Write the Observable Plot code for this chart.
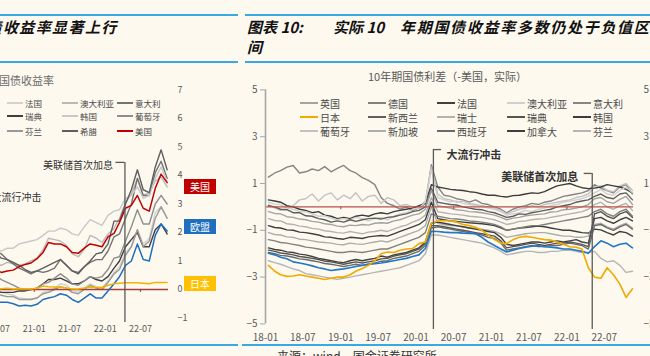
<!DOCTYPE html>
<html><head><meta charset="utf-8">
<script src="https://cdn.jsdelivr.net/npm/d3@7"></script>
<script src="https://cdn.jsdelivr.net/npm/@observablehq/plot@0.6"></script>
<style>
body{margin:0;width:650px;height:356px;overflow:hidden;position:relative;background:#fdf9ef;font-family:"Noto Sans CJK SC","Noto Sans",sans-serif;}
.a{position:absolute;white-space:nowrap;}
.t{position:absolute;white-space:nowrap;font-style:italic;font-weight:700;font-size:15px;line-height:16px;color:#111;}
.bl{position:absolute;height:2px;background:#38aae3;}
.lg{position:absolute;white-space:nowrap;display:flex;align-items:center;}
.lg i{display:inline-block;height:2px;margin-right:2px;}
.box{position:absolute;width:32px;height:15px;line-height:15px;text-align:center;color:#fff;font-size:10px;font-family:"Noto Sans CJK SC",serif;}
svg{position:absolute;}
</style></head><body>
<div class="bl" style="left:0;width:238px;top:14px"></div>
<div class="bl" style="left:245px;width:405px;top:14px"></div>
<div class="bl" style="left:0;width:238px;top:61px"></div>
<div class="bl" style="left:245px;width:405px;top:61px"></div>
<div class="bl" style="left:0;width:238px;top:344px"></div>
<div class="bl" style="left:242px;width:408px;top:344px"></div>
<div class="t" style="left:-13.5px;top:19px;letter-spacing:1.4px">债收益率显著上行</div>
<div class="t" style="left:247px;top:19px">图表 10:</div>
<div class="t" style="left:333px;top:19px">实际 10</div>
<div class="t" style="left:400px;top:19px;letter-spacing:1.7px">年期国债收益率多数仍处于负值区</div>
<div class="t" style="left:247px;top:39px">间</div>
<div class="a" style="left:-1px;top:74px;font-size:11px;line-height:12px;color:#6b6b6b">国债收益率</div>
<div class="a" style="left:368px;top:70px;font-size:11px;line-height:12px;color:#595959">10年期国债利差（-美国，实际）</div>
<div class="a" style="left:277px;top:350px;font-size:12px;line-height:12px;color:#333">来源：wind，国金证券研究所</div>
<div id="root"></div>
<script>
// ---------- Left chart data (monthly, 2020-06 .. 2022-11) ----------
const namesL = ["法国","澳大利亚","意大利","瑞典","韩国","葡萄牙","芬兰","希腊","欧盟","日本","美国"];
const lFR = [-0.05,-0.1,-0.15,-0.2,-0.3,-0.32,-0.33, -0.3,-0.1,-0.05,0.05,0.2,0.15,-0.05,-0.08,0.05,0.2,0.1,0.05, 0.3,0.6,0.8,1.3,1.5,2.1,1.6,1.8,2.7,2.9,2.5];
const lAU = [0.9,0.85,0.95,0.9,0.85,0.9,1.0, 1.1,1.4,1.8,1.75,1.7,1.55,1.25,1.15,1.4,1.9,1.8,1.65, 1.95,2.15,2.5,3.05,3.35,3.9,3.3,3.4,3.8,3.95,3.6];
const lIT = [1.35,1.25,1.05,0.9,0.75,0.65,0.55, 0.65,0.6,0.65,0.75,1.05,0.85,0.65,0.6,0.8,0.95,1.05,1.05, 1.35,1.85,1.95,2.5,3.0,3.9,3.3,3.3,4.1,4.5,3.9];
const lSE = [-0.05,-0.1,-0.1,-0.1,-0.05,-0.05,0.0, 0.05,0.2,0.35,0.35,0.4,0.3,0.2,0.2,0.3,0.45,0.35,0.3, 0.45,0.75,1.0,1.5,1.75,2.0,1.5,1.5,2.1,2.3,1.95];
const lKR = [1.4,1.35,1.45,1.45,1.6,1.65,1.7, 1.75,1.9,2.05,2.05,2.15,2.1,1.95,1.9,2.2,2.45,2.35,2.25, 2.6,2.75,2.8,3.2,3.3,3.6,3.2,3.3,3.9,4.3,3.8];
const lPT = [0.5,0.35,0.25,0.15,0.05,0.0,0.0, 0.05,0.2,0.25,0.4,0.55,0.4,0.2,0.15,0.3,0.45,0.4,0.45, 0.7,1.1,1.15,1.7,2.2,2.8,2.3,2.3,3.0,3.3,3.0];
const lFI = [-0.15,-0.2,-0.25,-0.25,-0.35,-0.35,-0.35, -0.3,-0.15,-0.1,0.0,0.1,0.05,-0.1,-0.15,0.0,0.15,0.05,0.0, 0.25,0.55,0.7,1.2,1.5,2.1,1.5,1.7,2.5,2.9,2.5];
const lGR = [1.3,1.1,1.05,0.95,0.85,0.7,0.6, 0.65,0.75,0.85,0.95,1.05,0.85,0.65,0.55,0.8,1.0,1.25,1.3, 1.6,2.4,2.4,3.0,3.5,4.2,3.5,3.4,4.3,4.9,4.2];
const lEU = [-0.42,-0.45,-0.45,-0.5,-0.58,-0.55,-0.58, -0.52,-0.35,-0.3,-0.25,-0.15,-0.2,-0.35,-0.45,-0.3,-0.15,-0.3,-0.3, -0.05,0.2,0.45,0.85,1.0,1.6,1.05,1.0,1.9,2.3,2.05];
const lJP = [0.02,0.03,0.04,0.02,0.03,0.02,0.02, 0.04,0.12,0.1,0.09,0.08,0.05,0.02,0.02,0.05,0.09,0.07,0.07, 0.15,0.2,0.22,0.24,0.24,0.24,0.22,0.2,0.25,0.25,0.25];
const lUS = [0.7,0.6,0.65,0.68,0.8,0.88,0.93, 1.08,1.3,1.65,1.6,1.6,1.5,1.3,1.27,1.45,1.6,1.55,1.5, 1.85,1.97,2.35,2.85,2.95,3.3,2.85,2.75,3.55,4.05,3.75];
const valuesL = [lFR,lAU,lIT,lSE,lKR,lPT,lFI,lGR,lEU,lJP,lUS];
const xTicksL = ["2020-07-01","2021-01-01","2021-07-01","2022-01-01","2022-07-01"];
const zeroTicksL = ["2021-01-01","2022-07-01"];
const yTicksL = [-1,0,1,2,3,4,5,6,7];
const eventsL = [
  {date:"2020-03-20", label:"大流行冲击", top:3.4, textY:3.23, side:1, bottom:-1.16},
  {date:"2022-04-12", label:"美联储首次加息", top:4.46, textY:4.35, side:-1, bottom:-1.16}
];
const endLabels = [{name:"美国", value:3.6},{name:"欧盟", value:2.2},{name:"日本", value:0.2}];

// ---------- Right chart data (monthly, 2018-01 .. 2022-11) ----------
const namesR = ["意大利","葡萄牙","韩国","澳大利亚","新西兰","英国","瑞士","加拿大","新加坡","法国","瑞典","西班牙","德国","芬兰","欧元区","日本"];
const rIT = [1.27,1.45,1.55,1.7,1.77,1.45,1.5,1.62,1.55,1.72,1.5,1.65, 1.77,1.55,1.45,1.25,1.13,0.95,0.4,0.15,0.05,-0.1,0.0,-0.15, -0.05,0.15,1.8,0.85,0.5,0.45,0.35,0.3,0.2,0.3,0.15,0.1, 0.0,-0.1,-0.25,-0.1,0.0,0.05,0.15,0.1,0.2,0.25,0.35,0.45, 0.5,0.55,0.6,0.7,0.95,0.8,0.7,0.6,0.85,0.95,0.55];
const rPT = [0.1,-0.05,-0.15,-0.1,0.05,0.3,0.35,0.55,0.25,0.5,0.6,0.3, 0.5,0.35,0.6,0.25,0.45,0.5,0.15,0.4,0.3,0.05,0.1,0.0, 0.0,0.25,1.7,0.55,0.35,0.3,0.2,0.25,0.15,0.1,0.05,0.0, -0.05,-0.15,-0.3,-0.2,-0.1,-0.05,0.05,0.0,0.1,0.15,0.2,0.25, 0.3,0.4,0.45,0.55,0.85,0.9,0.7,0.65,0.9,1.0,0.7];
const rKR = [0.3,0.25,0.2,0.05,0.0,-0.1,-0.15,-0.25,-0.2,-0.35,-0.4,-0.5, -0.45,-0.5,-0.4,-0.35,-0.4,-0.3,-0.25,-0.3,-0.2,-0.15,-0.1,-0.05, 0.05,0.15,0.95,0.85,0.8,0.75,0.72,0.7,0.65,0.62,0.55,0.5, 0.5,0.45,0.42,0.48,0.5,0.55,0.6,0.58,0.65,0.78,0.9,0.95, 1.0,0.9,0.82,0.78,0.8,0.85,0.95,0.9,0.85,0.75,0.6];
const rAU = [0.2,0.12,0.1,-0.05,-0.1,-0.2,-0.2,-0.3,-0.4,-0.38,-0.48,-0.55, -0.5,-0.55,-0.45,-0.5,-0.6,-0.5,-0.45,-0.55,-0.4,-0.3,-0.25,-0.1, -0.05,0.2,1.6,0.4,0.3,0.22,0.25,0.15,0.1,0.05,0.02,-0.05, -0.1,-0.2,-0.35,-0.3,-0.25,-0.15,-0.2,-0.1,-0.05,0.05,0.1,0.2, 0.25,0.3,0.35,0.45,0.6,0.75,0.55,0.5,0.7,0.85,0.6];
const rNZ = [0.05,0.0,-0.1,-0.12,-0.25,-0.25,-0.38,-0.4,-0.5,-0.55,-0.65,-0.6, -0.65,-0.55,-0.62,-0.55,-0.5,-0.48,-0.52,-0.45,-0.42,-0.35,-0.3,-0.2, -0.15,0.0,0.8,0.2,0.15,0.1,0.08,0.0,-0.05,-0.1,-0.12,-0.2, -0.25,-0.35,-0.45,-0.4,-0.3,-0.32,-0.25,-0.2,-0.15,-0.1,0.0,0.05, 0.1,0.2,0.25,0.3,0.45,0.55,0.4,0.35,0.55,0.6,0.3];
const rUK = [-0.2,-0.28,-0.3,-0.42,-0.45,-0.52,-0.55,-0.62,-0.65,-0.72,-0.75,-0.82, -0.85,-0.78,-0.8,-0.75,-0.78,-0.7,-0.68,-0.7,-0.6,-0.55,-0.45,-0.35, -0.3,-0.1,0.7,0.05,0.0,-0.05,-0.12,-0.15,-0.2,-0.22,-0.25,-0.3, -0.35,-0.45,-0.55,-0.48,-0.45,-0.38,-0.35,-0.32,-0.3,-0.22,-0.2,-0.12, -0.1,-0.05,0.0,0.1,0.35,0.4,0.22,0.15,0.32,0.45,0.1];
const rCH = [-0.5,-0.58,-0.6,-0.72,-0.75,-0.82,-0.85,-0.92,-0.95,-1.02,-1.05,-1.1, -1.12,-1.05,-1.1,-1.15,-1.08,-1.05,-1.0,-1.05,-0.95,-0.85,-0.78,-0.65, -0.55,-0.35,0.4,-0.2,-0.25,-0.3,-0.32,-0.35,-0.4,-0.42,-0.45,-0.5, -0.55,-0.65,-0.75,-0.7,-0.62,-0.6,-0.55,-0.52,-0.5,-0.45,-0.4,-0.35, -0.3,-0.25,-0.2,-0.1,0.1,0.2,0.0,-0.1,0.05,0.15,-0.15];
const rCA = [-0.8,-0.88,-0.9,-0.98,-1.0,-1.08,-1.1,-1.15,-1.2,-1.28,-1.3,-1.35, -1.38,-1.3,-1.32,-1.35,-1.28,-1.25,-1.22,-1.25,-1.15,-1.05,-0.95,-0.85, -0.75,-0.55,0.2,-0.5,-0.55,-0.6,-0.62,-0.65,-0.68,-0.7,-0.72,-0.75, -0.8,-0.9,-1.0,-0.95,-0.9,-0.88,-0.85,-0.82,-0.85,-0.9,-0.95,-1.0, -1.0,-1.05,-1.1,-1.12,-0.95,-0.98,-1.1,-1.2,-1.05,-1.1,-1.25];
const rSG = [-1.1,-1.18,-1.2,-1.28,-1.3,-1.38,-1.4,-1.45,-1.5,-1.52,-1.55,-1.6, -1.62,-1.55,-1.58,-1.6,-1.55,-1.5,-1.45,-1.5,-1.4,-1.3,-1.2,-1.1, -1.0,-0.8,0.0,-0.7,-0.75,-0.8,-0.82,-0.85,-0.9,-0.92,-0.95,-1.0, -1.05,-1.15,-1.3,-1.25,-1.2,-1.15,-1.12,-1.1,-1.1,-1.15,-1.2,-1.25, -1.25,-1.3,-1.3,-1.25,-0.75,-0.7,-0.85,-0.95,-0.8,-0.7,-0.9];
const rFR = [-1.75,-1.82,-1.85,-1.92,-1.95,-2.02,-2.05,-2.12,-2.2,-2.25,-2.3,-2.35, -2.38,-2.3,-2.25,-2.3,-2.25,-2.2,-2.1,-2.15,-2.05,-2.0,-1.95,-1.85, -1.75,-1.5,-0.7,-0.65,-0.7,-0.75,-0.8,-0.85,-0.9,-0.95,-1.0,-1.05, -1.1,-1.3,-1.6,-1.65,-1.6,-1.55,-1.5,-1.5,-1.55,-1.5,-1.45,-1.5, -1.45,-1.4,-1.5,-1.55,-0.5,-0.45,-0.6,-0.7,-0.55,-0.45,-0.6];
const rSE = [-1.85,-1.9,-1.97,-2.0,-2.05,-2.12,-2.15,-2.2,-2.25,-2.32,-2.35,-2.4, -2.45,-2.4,-2.35,-2.4,-2.35,-2.3,-2.22,-2.2,-2.1,-2.05,-2.0,-1.9, -1.8,-1.55,-0.8,-0.8,-0.85,-0.9,-0.95,-1.0,-1.05,-1.1,-1.15,-1.2, -1.25,-1.45,-1.75,-1.7,-1.65,-1.6,-1.55,-1.6,-1.65,-1.6,-1.55,-1.55, -1.5,-1.55,-1.6,-1.7,-0.3,-0.2,-0.4,-0.5,-0.3,-0.2,-0.45];
const rES = [-1.95,-2.0,-2.07,-2.1,-2.15,-2.22,-2.25,-2.3,-2.35,-2.42,-2.45,-2.5, -2.55,-2.5,-2.45,-2.5,-2.45,-2.4,-2.32,-2.3,-2.2,-2.15,-2.1,-2.0, -1.9,-1.65,-0.9,-0.85,-0.9,-0.95,-1.0,-1.05,-1.1,-1.15,-1.2,-1.3, -1.35,-1.55,-1.85,-1.8,-1.75,-1.7,-1.65,-1.7,-1.7,-1.65,-1.65,-1.6, -1.55,-1.6,-1.65,-1.8,-0.8,-0.75,-0.9,-1.0,-0.85,-0.75,-0.95];
const rDE = [-1.4,-1.45,-1.52,-1.55,-1.6,-1.65,-1.72,-1.75,-1.8,-1.85,-1.9,-1.95, -1.95,-1.9,-1.92,-1.95,-1.9,-1.85,-1.8,-1.8,-1.7,-1.6,-1.5,-1.4, -1.3,-1.1,-0.3,-0.4,-0.45,-0.5,-0.52,-0.55,-0.6,-0.62,-0.65,-0.7, -0.75,-0.85,-1.0,-0.95,-0.9,-0.85,-0.8,-0.8,-0.75,-0.7,-0.65,-0.6, -0.55,-0.5,-0.45,-0.4,-0.2,-0.1,-0.3,-0.4,-0.2,-0.1,-0.4];
const rFI = [-2.3,-2.38,-2.45,-2.55,-2.65,-2.72,-2.85,-2.9,-2.95,-3.0,-3.05,-3.1, -3.05,-3.0,-2.95,-2.9,-2.85,-2.8,-2.75,-2.7,-2.65,-2.6,-2.5,-2.4, -2.3,-2.0,-1.2,-1.2,-1.25,-1.3,-1.35,-1.4,-1.45,-1.5,-1.55,-1.65, -1.75,-1.9,-2.05,-2.0,-1.95,-1.9,-1.9,-1.95,-1.95,-1.9,-1.9,-1.85, -1.85,-1.9,-1.95,-1.95,-1.9,-2.2,-2.35,-2.3,-2.5,-2.8,-2.75];
const rEA = [-1.98,-2.05,-2.15,-2.22,-2.35,-2.4,-2.45,-2.52,-2.6,-2.65,-2.72,-2.68, -2.65,-2.6,-2.55,-2.5,-2.45,-2.43,-2.4,-2.35,-2.3,-2.25,-2.2,-2.12, -2.05,-1.78,-1.04,-1.05,-1.08,-1.1,-1.1,-1.12,-1.13,-1.15,-1.3,-1.5, -1.65,-1.8,-1.93,-1.85,-1.78,-1.72,-1.68,-1.65,-1.7,-1.72,-1.75,-1.8, -1.8,-1.85,-1.9,-1.98,-1.7,-1.45,-1.55,-1.7,-1.6,-1.55,-1.75];
const rJP = [-2.5,-2.75,-2.9,-2.97,-2.95,-2.9,-2.95,-3.0,-3.05,-3.1,-3.05,-3.0, -3.0,-2.9,-2.75,-2.63,-2.5,-2.3,-2.0,-1.93,-1.95,-1.85,-1.8,-1.78, -1.57,-1.5,-0.7,-0.6,-0.58,-0.6,-0.65,-0.75,-0.8,-0.87,-1.0,-1.2, -1.4,-1.55,-1.57,-1.4,-1.3,-1.26,-1.3,-1.35,-1.4,-1.42,-1.5,-1.6, -1.7,-1.72,-1.8,-2.6,-3.0,-3.05,-2.6,-2.9,-3.3,-3.87,-3.5];
const valuesR = [rIT,rPT,rKR,rAU,rNZ,rUK,rCH,rCA,rSG,rFR,rSE,rES,rDE,rFI,rEA,rJP];
const xTicksR = ["2018-01-01","2018-07-01","2019-01-01","2019-07-01","2020-01-01","2020-07-01","2021-01-01","2021-07-01","2022-01-01","2022-07-01"];
const zeroTicksR = ["2019-01-01","2020-07-01","2022-01-01"];
const yTicksR = [-5,-3,-1,1,3,5];
const eventsR = [
  {date:"2020-03-25", label:"大流行冲击", top:2.45, textY:2.2, side:1, bottom:-5.24},
  {date:"2022-05-04", label:"美联储首次加息", top:1.43, textY:1.26, side:-1, bottom:-5.24}
];
const legendR = [["英国","德国","法国","澳大利亚","意大利"],["日本","新西兰","瑞士","瑞典","韩国"],["葡萄牙","新加坡","西班牙","加拿大","芬兰"]];
const legendL = [["法国","澳大利亚","意大利"],["瑞典","韩国","葡萄牙"],["芬兰","希腊","美国"]];

// ---------- styles ----------
const FONT = '"Noto Sans CJK SC","Noto Sans",sans-serif';
const colorL = {"法国":"#d2d2d2","澳大利亚":"#b9b9b9","意大利":"#737373","瑞典":"#3f3f3f","韩国":"#c8c8c8","葡萄牙":"#8e8e8e","芬兰":"#999999","希腊":"#5e5e5e","欧盟":"#1f6fc0","日本":"#f2b300","美国":"#c00000"};
const colorR = {"英国":"#a3a3a3","德国":"#808080","法国":"#404040","澳大利亚":"#d0d0d0","意大利":"#858585","日本":"#f0aa00","新西兰":"#5f5f5f","瑞士":"#b3b3b3","瑞典":"#555555","韩国":"#3c3c3c","葡萄牙":"#c2c2c2","新加坡":"#adadad","西班牙":"#6a6a6a","加拿大":"#3f3f3f","芬兰":"#b5b5b5","欧元区":"#1f78c8"};
const boxColor = {"美国":"#c00000","欧盟":"#1f6fc0","日本":"#ffc000"};

const fmt = d3.utcFormat("%y-%m");
const toDate = s => new Date(s);
const monthsL = d3.utcMonth.range(new Date("2020-06-01"), new Date("2022-12-01")).map(d => d3.utcDay.offset(d, 14));
const monthsR = d3.utcMonth.range(new Date("2018-01-01"), new Date("2022-12-01")).map(d => d3.utcDay.offset(d, 14));

function seriesMarks(names, values, months, colors, width) {
  return names.map((n, k) => Plot.line(values[k].map((v, i) => ({date: months[i], value: v})),
    {x: "date", y: "value", stroke: colors[n], strokeWidth: width, strokeLinejoin: "round"}));
}
function eventMarks(events, bracketDays, dxText, fontSize, weight, color) {
  const ev = events.map(e => ({...e, d: toDate(e.date)}));
  const out = [
    Plot.ruleX(ev, {x: "d", y1: "bottom", y2: "top", stroke: "#5a5a5a", strokeWidth: 1.3}),
    Plot.ruleY(ev, {y: "top", x1: "d", x2: e => d3.utcDay.offset(e.d, e.side * bracketDays), stroke: "#5a5a5a", strokeWidth: 1.3})
  ];
  ev.forEach(e => out.push(Plot.text([e], {x: "d", y: "textY", text: "label", dx: e.side * dxText[e.side > 0 ? 0 : 1],
    textAnchor: e.side > 0 ? "start" : "end", fontSize, fontWeight: weight, fill: color})));
  return out;
}

// ---------- Left chart ----------
const LP = {left: -28, top: 70};
const plotL = Plot.plot({
  width: 236, height: 268, marginTop: 19.5, marginBottom: 20.5, marginLeft: 20, marginRight: 40,
  style: {background: "transparent", fontFamily: FONT, fontSize: "9px", color: "#595959"},
  x: {type: "utc", domain: [new Date("2020-05-31"), new Date("2022-11-22")]},
  y: {domain: [-1, 7]},
  marks: [
    ...seriesMarks(namesL.slice(0, 8), valuesL.slice(0, 8), monthsL, colorL, 1.4),
    Plot.ruleY([0], {stroke: "#a3403a", strokeWidth: 1.4}),
    Plot.ruleX(zeroTicksL.map(toDate), {x: d => d, y1: 0, y2: -0.1, stroke: "#a3403a", strokeWidth: 1.2}),
    ...seriesMarks(namesL.slice(8), valuesL.slice(8), monthsL, colorL, 1.5),
    ...eventMarks(eventsL, 46, [13, 12], 10, 400, "#333"),
    Plot.axisX({ticks: xTicksL.map(toDate), tickFormat: fmt, tickSize: 0, tickPadding: 8, label: null}),
    Plot.axisY({anchor: "right", ticks: yTicksL, tickSize: 0, tickPadding: 9, label: null})
  ]
});
plotL.style.left = LP.left + "px"; plotL.style.top = LP.top + "px";
document.getElementById("root").appendChild(plotL);
const yL = plotL.scale("y");
endLabels.forEach(l => {
  const d = document.createElement("div");
  d.className = "box"; d.textContent = l.name; d.style.background = boxColor[l.name];
  d.style.left = "184px"; d.style.top = (LP.top + yL.apply(l.value) - 7.5) + "px";
  document.body.appendChild(d);
});

// ---------- Right chart ----------
const RP = {left: 240, top: 70};
const xDomR = [new Date("2018-01-01"), new Date("2022-11-20")];
const plotR = Plot.plot({
  width: 430, height: 283.4, marginTop: 19.4, marginBottom: 30, marginLeft: 25, marginRight: 37,
  style: {background: "transparent", fontFamily: FONT, fontSize: "10px", color: "#595959"},
  x: {type: "utc", domain: xDomR},
  y: {domain: [-5, 5]},
  marks: [
    ...seriesMarks(namesR.slice(0, 14), valuesR.slice(0, 14), monthsR, colorR, 1.4),
    Plot.ruleY([0], {stroke: "#b8504a", strokeWidth: 1.3}),
    Plot.ruleX(zeroTicksR.map(toDate), {x: d => d, y1: 0, y2: -0.12, stroke: "#b8504a", strokeWidth: 1.2}),
    ...seriesMarks(namesR.slice(14), valuesR.slice(14), monthsR, colorR, 1.6),
    Plot.ruleX([xDomR[0]], {x: d => d, y1: -5, y2: 5, stroke: "#a6a6a6", strokeWidth: 1.6}),
    ...eventMarks(eventsR, 39, [13, 14], 11, 700, "#333"),
    Plot.axisY({anchor: "left", ticks: yTicksR, tickSize: 5, tickPadding: 3, stroke: "#a6a6a6", label: null}),
    Plot.axisY({anchor: "right", ticks: yTicksR, tickSize: 0, tickPadding: 10, label: null}),
    Plot.axisX({ticks: xTicksR.map(toDate), tickFormat: fmt, tickSize: 0, tickPadding: 10, label: null})
  ]
});
plotR.style.left = RP.left + "px"; plotR.style.top = RP.top + "px";
document.getElementById("root").appendChild(plotR);

// ---------- Legends ----------
function legend(rows, colors, x0s, y0s, lineW, fontSize) {
  rows.forEach((row, r) => row.forEach((name, c) => {
    const d = document.createElement("div");
    d.className = "lg";
    d.style.left = x0s[c] + "px"; d.style.top = (y0s[r] - 7) + "px";
    d.style.height = "14px"; d.style.fontSize = fontSize + "px"; d.style.color = "#4a4a4a";
    d.innerHTML = `<i style="width:${lineW}px;background:${colors[name]}"></i>${name}`;
    document.body.appendChild(d);
  }));
}
legend(legendL, colorL, [7, 62, 117], [103, 116, 131], 16, 8.5);
legend(legendR, colorR, [300, 368, 437, 507, 573], [103, 117, 131], 18, 10);
</script>
</body></html>
